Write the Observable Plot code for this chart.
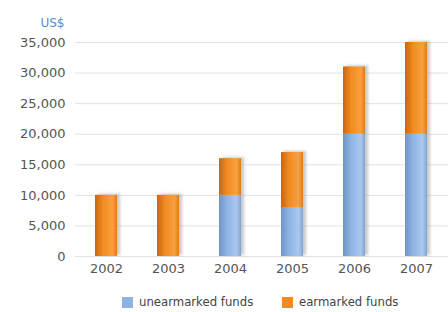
<!DOCTYPE html>
<html>
<head>
<meta charset="utf-8">
<script src="https://cdn.jsdelivr.net/npm/d3@7"></script>
<script src="https://cdn.jsdelivr.net/npm/@observablehq/plot@0.6"></script>
<style>
  html, body { margin: 0; padding: 0; background: #fff; }
  body { width: 448px; height: 312px; overflow: hidden; font-family: "DejaVu Sans", sans-serif; }
  .sw { display: inline-block; width: 11px; height: 11px; margin-right: 6px; }
  .item { display: flex; align-items: center; position: absolute; }
</style>
</head>
<body>
<div id="chart"></div>
<script>
const years = ["2002", "2003", "2004", "2005", "2006", "2007"];
const unearmarked = [0, 0, 10000, 8000, 20000, 20000];
const earmarked = [10000, 10000, 6000, 9000, 11000, 15000];
const seriesNames = ["unearmarked funds", "earmarked funds"];
const seriesColors = ["#8db3e2", "#f28a1e"];
const yTicks = [0, 5000, 10000, 15000, 20000, 25000, 30000, 35000];

const data = [];
years.forEach((y, i) => {
  data.push({year: y, series: seriesNames[0], value: unearmarked[i]});
  data.push({year: y, series: seriesNames[1], value: earmarked[i]});
});
const totals = years.map((y, i) => ({year: y, value: unearmarked[i] + earmarked[i]}));

const defs = () => {
  const svgNS = "http://www.w3.org/2000/svg";
  const g = document.createElementNS(svgNS, "defs");
  g.innerHTML = `
    <linearGradient id="gOrange" x1="0" x2="1" y1="0" y2="0">
      <stop offset="0" stop-color="#c9650f"/>
      <stop offset="0.35" stop-color="#f28a1e"/>
      <stop offset="0.8" stop-color="#f7a040"/>
      <stop offset="1" stop-color="#e07a18"/>
    </linearGradient>
    <linearGradient id="gBlue" x1="0" x2="1" y1="0" y2="0">
      <stop offset="0" stop-color="#6f95c8"/>
      <stop offset="0.35" stop-color="#8db3e2"/>
      <stop offset="0.8" stop-color="#a9c8ee"/>
      <stop offset="1" stop-color="#7fa4d6"/>
    </linearGradient>
    <filter id="blur" x="-50%" y="-10%" width="200%" height="120%"><feGaussianBlur stdDeviation="1.5"/></filter>`;
  return g;
};

const chart = Plot.plot({
  width: 448,
  height: 284,
  marginLeft: 75,
  marginRight: 0,
  marginTop: 42,
  marginBottom: 28,
  style: {fontFamily: "DejaVu Sans, sans-serif", fontSize: "13px", color: "#555", background: "#fff"},
  x: {domain: years, paddingInner: 0.645, paddingOuter: 0.32, label: null, tickSize: 0, tickPadding: 7},
  y: {domain: [0, 35000], ticks: yTicks, tickFormat: d3.format(","), label: null, tickSize: 0, tickPadding: 10},
  color: {domain: seriesNames, range: ["url(#gBlue)", "url(#gOrange)"]},
  marks: [
    defs,
    Plot.gridY(yTicks, {stroke: "#e2e2e2", strokeOpacity: 1, strokeWidth: 1}),
    Plot.barY(totals, {x: "year", y: "value", fill: "#9a9a9a", fillOpacity: 0.55, dx: 3, dy: -1, render: (i, s, v, d, c, next) => { const g = next(i, s, v, d, c); g.setAttribute("filter", "url(#blur)"); return g; }}),
    Plot.barY(data, {x: "year", y: "value", fill: "series", order: seriesNames}),
    Plot.text(["US$"], {frameAnchor: "top-left", dx: -11, dy: -24, textAnchor: "end", fill: "#4a8fd4", fontSize: 12})
  ]
});
document.getElementById("chart").appendChild(chart);

const legend = document.createElement("div");
legend.style.position = "relative";
legend.style.height = "28px";
legend.style.fontSize = "11.7px";
legend.style.color = "#444";
const lefts = [122, 282];
seriesNames.forEach((n, i) => {
  const it = document.createElement("div");
  it.className = "item";
  it.style.left = lefts[i] + "px";
  it.style.top = "11px";
  it.innerHTML = `<span class="sw" style="background:${seriesColors[i]}"></span><span>${n}</span>`;
  legend.appendChild(it);
});
document.body.appendChild(legend);
</script>
</body>
</html>
